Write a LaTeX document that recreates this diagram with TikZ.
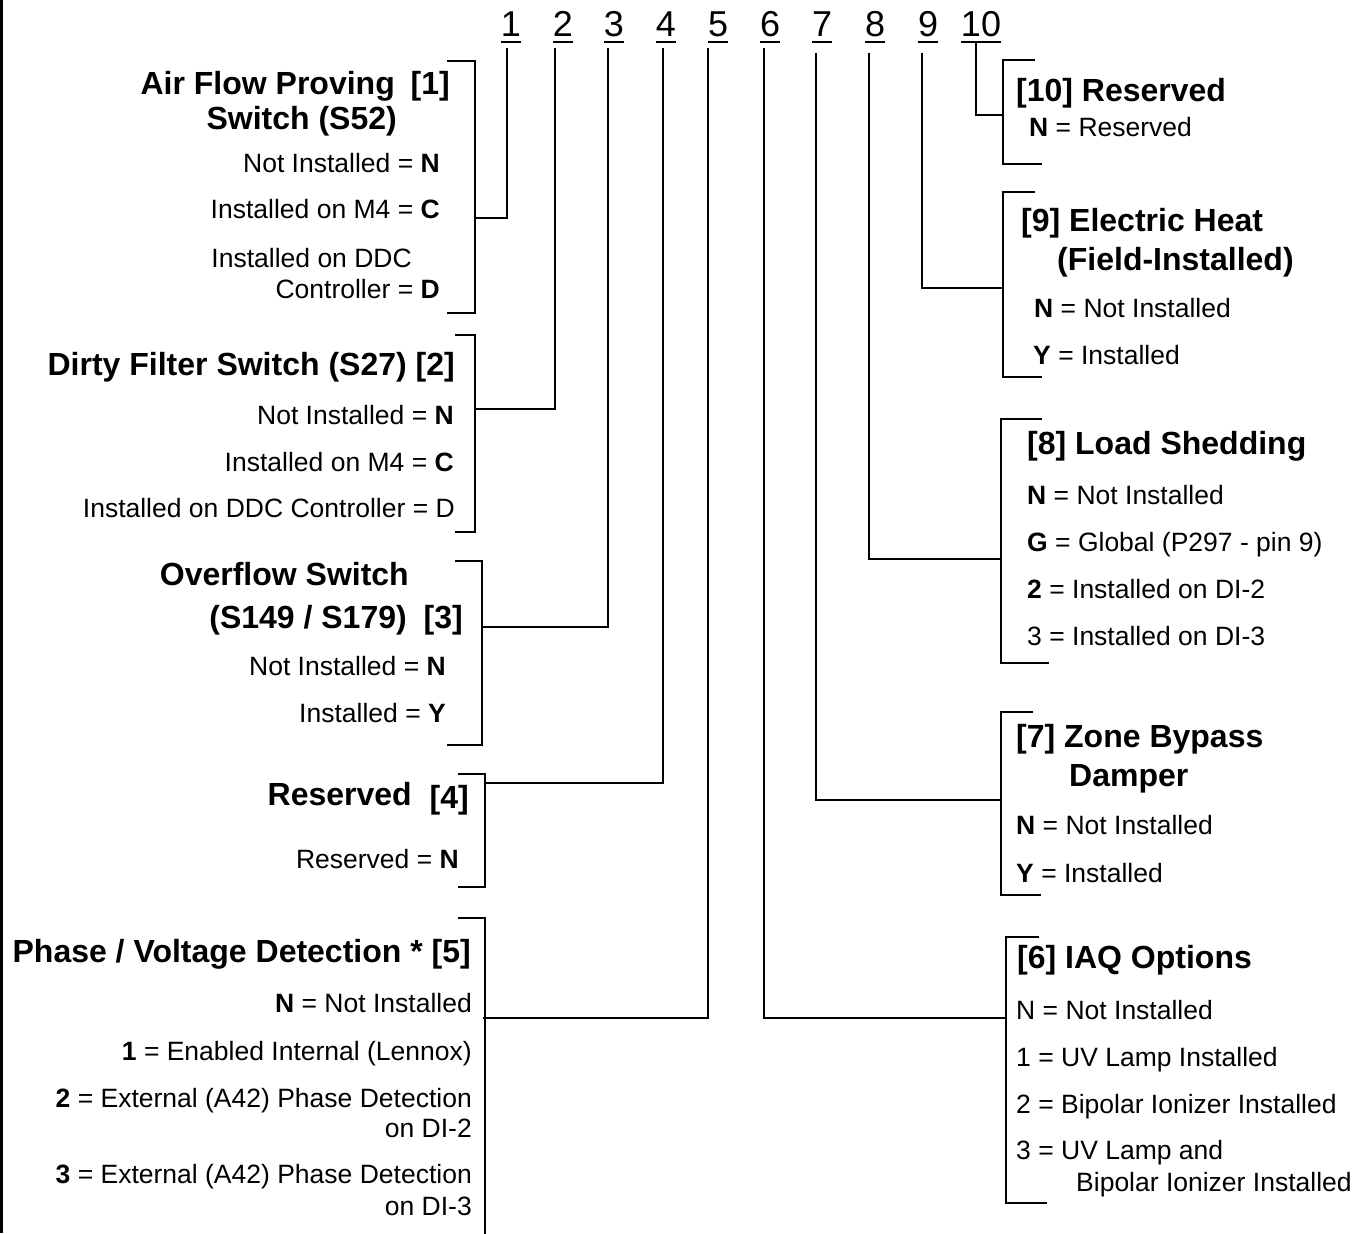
\documentclass[tikz,border=0pt]{standalone}
\usepackage{fontspec}
\setmainfont{Liberation Sans}
\begin{document}
\begin{tikzpicture}[x=1pt,y=-1pt,
  ttl/.style={font=\fontsize{32}{37}\selectfont\bfseries, inner sep=0pt},
  itm/.style={font=\fontsize{26.5}{31}\selectfont, inner sep=0pt},
  dig/.style={font=\fontsize{36}{40}\selectfont, inner sep=0pt, anchor=base},
  L/.style={anchor=base east},
  R/.style={anchor=base west},
  wire/.style={line width=2.6pt},
  uline/.style={line width=1.8pt}
]
\useasboundingbox (0,0) rectangle (1364,1233);
\draw[line width=3pt] (1.5,0) -- (1.5,1233);

% top digits
\foreach \n/\x in {1/511,2/563,3/614,4/666,5/718,6/770,7/822,8/875,9/928,10/981}{
  \node[dig] (d\n) at (\x,37) {\n};
  \draw[uline] ([yshift=-5pt]d\n.base west) -- ([yshift=-5pt]d\n.base east);
}

% connector start points
\coordinate (c1) at (507,48);
\coordinate (c2) at (555,48);
\coordinate (c3) at (608,48);
\coordinate (c4) at (663,48);
\coordinate (c5) at (708,48);
\coordinate (c6) at (764,48);
\coordinate (c7) at (816,53);
\coordinate (c8) at (869,53);
\coordinate (c9) at (922,53);
\coordinate (c10) at (976,43);
% bracket joints
\coordinate (b1) at (475,218);
\coordinate (b2) at (475,409);
\coordinate (b3) at (482,627);
\coordinate (b4) at (485,783);
\coordinate (b5) at (483,1018);
\coordinate (b6) at (1006,1018);
\coordinate (b7) at (1001,800);
\coordinate (b8) at (1001,559);
\coordinate (b9) at (1003,288);
\coordinate (b10) at (1003,115);

\foreach \k in {1,...,10}{ \draw[wire] (c\k) |- (b\k); }

% left brackets
\draw[wire] (447,61) -| (475,313) -- (447,313);
\draw[wire] (455,335) -| (475,532) -- (455,532);
\draw[wire] (455,561) -| (482,745) -- (447,745);
\draw[wire] (458,774) -| (485,887) -- (458,887);
\draw[wire] (458,918) -| (485,1240);
% right brackets
\draw[wire] (1035,60) -| (1003,164) -- (1042,164);
\draw[wire] (1035,192) -| (1003,377) -- (1042,377);
\draw[wire] (1042,419) -| (1001,663) -- (1049,663);
\draw[wire] (1033,712) -| (1001,895) -- (1041,895);
\draw[wire] (1039,937) -| (1006,1203) -- (1047,1203);

% group 1
\node[ttl,L] (g1t1) at (395,95) {Air Flow Proving};
\node[ttl,L] (g1t2) at (450,95) {[1]};
\node[ttl,L] (g1t3) at (397,130) {Switch (S52)};
\node[itm,L] (g1a) at (440,173) {Not Installed = \textbf{N}};
\node[itm,L] (g1b) at (440,219) {Installed on M4 = \textbf{C}};
\node[itm,L] (g1c) at (412,267) {Installed on DDC};
\node[itm,L] (g1d) at (440,298) {Controller = \textbf{D}};

% group 2
\node[ttl,L] (g2t) at (455,375) {Dirty Filter Switch (S27) [2]};
\node[itm,L] (g2a) at (454,424) {Not Installed = \textbf{N}};
\node[itm,L] (g2b) at (454,471) {Installed on M4 = \textbf{C}};
\node[itm,L] (g2c) at (455,517) {Installed on DDC Controller = D};

% group 3
\node[ttl,L] (g3t1) at (409,585) {Overflow Switch};
\node[ttl,L] (g3t2) at (407,628) {(S149 / S179)};
\node[ttl,L] (g3t3) at (463,628) {[3]};
\node[itm,L] (g3a) at (446,675) {Not Installed = \textbf{N}};
\node[itm,L] (g3b) at (446,722) {Installed = \textbf{Y}};

% group 4
\node[ttl,L] (g4t1) at (412,805) {Reserved};
\node[ttl,L] (g4t2) at (469,808) {[4]};
\node[itm,L] (g4a) at (459,868) {Reserved = \textbf{N}};

% group 5
\node[ttl,L] (g5t) at (471,962) {Phase / Voltage Detection * [5]};
\node[itm,L] (g5a) at (472,1012) {\textbf{N} = Not Installed};
\node[itm,L] (g5b) at (472,1060) {\textbf{1} = Enabled Internal (Lennox)};
\node[itm,L] (g5c) at (472,1107) {\textbf{2} = External (A42) Phase Detection};
\node[itm,L] (g5d) at (472,1137) {on DI-2};
\node[itm,L] (g5e) at (472,1183) {\textbf{3} = External (A42) Phase Detection};
\node[itm,L] (g5f) at (472,1215) {on DI-3};

% group 10
\node[ttl,R] (g10t) at (1016,102) {[10] Reserved};
\node[itm,R] (g10a) at (1029,137) {\textbf{N} = Reserved};

% group 9
\node[ttl,R] (g9t1) at (1021,232) {[9] Electric Heat};
\node[ttl,R] (g9t2) at (1057,270) {(Field-Installed)};
\node[itm,R] (g9a) at (1034,317) {\textbf{N} = Not Installed};
\node[itm,R] (g9b) at (1033,364) {\textbf{Y} = Installed};

% group 8
\node[ttl,R] (g8t) at (1027,454) {[8] Load Shedding};
\node[itm,R] (g8a) at (1027,504) {\textbf{N} = Not Installed};
\node[itm,R] (g8b) at (1027,551) {\textbf{G} = Global (P297 - pin 9)};
\node[itm,R] (g8c) at (1027,598) {\textbf{2} = Installed on DI-2};
\node[itm,R] (g8d) at (1027,645) {3 = Installed on DI-3};

% group 7
\node[ttl,R] (g7t1) at (1016,747) {[7] Zone Bypass};
\node[ttl,R] (g7t2) at (1069,786) {Damper};
\node[itm,R] (g7a) at (1016,834) {\textbf{N} = Not Installed};
\node[itm,R] (g7b) at (1016,882) {\textbf{Y} = Installed};

% group 6
\node[ttl,R] (g6t) at (1017,968) {[6] IAQ Options};
\node[itm,R] (g6a) at (1016,1019) {N = Not Installed};
\node[itm,R] (g6b) at (1016,1066) {1 = UV Lamp Installed};
\node[itm,R] (g6c) at (1016,1113) {2 = Bipolar Ionizer Installed};
\node[itm,R] (g6d) at (1016,1159) {3 = UV Lamp and};
\node[itm,R] (g6e) at (1076,1191) {Bipolar Ionizer Installed};
\end{tikzpicture}
\end{document}
